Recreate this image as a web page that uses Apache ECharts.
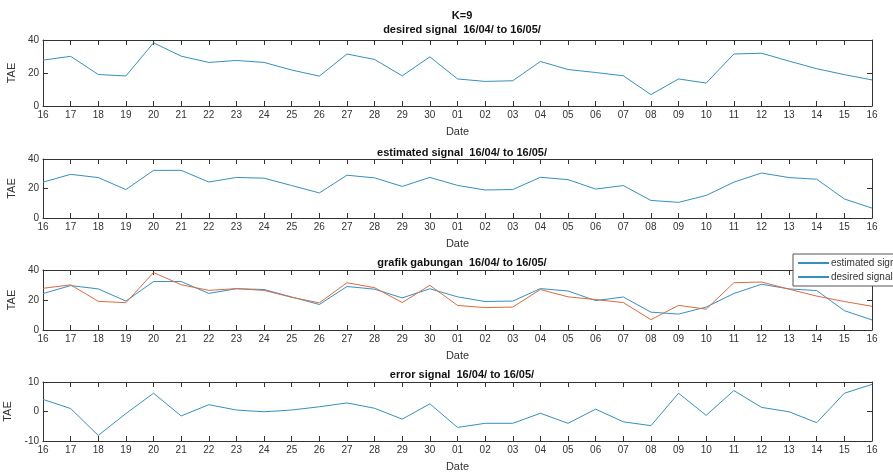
<!DOCTYPE html>
<html>
<head>
<meta charset="utf-8">
<script src="https://cdn.jsdelivr.net/npm/echarts@6/dist/echarts.min.js"></script>
<style>
  html, body { margin: 0; padding: 0; background: #fff; }
  #chart { width: 893px; height: 473px; }
</style>
</head>
<body>
<div id="chart"></div>
<script>
// dates 16/04 .. 16/05
var dates = ["16","17","18","19","20","21","22","23","24","25","26","27","28","29","30",
  "01","02","03","04","05","06","07","08","09","10","11","12","13","14","15","16"];

var desired = [27.8, 30.1, 19.1, 18.2, 38.3, 30.2, 26.4, 27.6, 26.4, 21.8, 18.1, 31.5, 28.2, 18.3, 29.8,
  16.4, 14.9, 15.3, 27.0, 22.1, 20.3, 18.3, 6.9, 16.4, 13.9, 31.5, 32.0, 27.2, 22.6, 19.0, 15.8];

var estimated = [24.3, 29.6, 27.4, 19.3, 32.3, 32.3, 24.4, 27.5, 27.0, 22.0, 17.0, 29.0, 27.2, 21.4, 27.5,
  22.1, 19.0, 19.3, 27.6, 26.0, 19.6, 22.0, 11.9, 10.6, 15.3, 24.3, 30.5, 27.4, 26.3, 12.9, 6.7];

var errorSig = [4.1, 1.0, -8.1, -0.7, 6.2, -1.5, 2.3, 0.5, -0.1, 0.5, 1.6, 2.9, 1.1, -2.6, 2.6,
  -5.4, -4.0, -4.0, -0.6, -4.0, 0.8, -3.5, -4.8, 6.2, -1.3, 7.1, 1.4, -0.1, -3.8, 6.2, 9.2];

var panelTitles = ["desired signal  16/04/ to 16/05/", "estimated signal  16/04/ to 16/05/",
  "grafik gabungan  16/04/ to 16/05/", "error signal  16/04/ to 16/05/"];
var yRanges = [[0, 40, 20], [0, 40, 20], [0, 40, 20], [-10, 10, 10]];

var BLUE = "#3590c2", ORANGE = "#dc6b3e", AX = "#333", FONT = "Liberation Sans, Arial, sans-serif";

// plot boxes (px)
var boxes = [
  { top: 40, height: 66 },
  { top: 159, height: 59 },
  { top: 270, height: 60 },
  { top: 382, height: 59 }
];
var titleY = [19, 142, 252, 364];

var grid = [], xAxis = [], yAxis = [], title = [];
title.push({
  text: "K=9", left: 457, top: 5, textAlign: "center",
  textStyle: { fontFamily: FONT, fontSize: 11, fontWeight: "bold", color: "#111" }
});
boxes.forEach(function (b, i) {
  grid.push({ left: 43, right: 21, top: b.top, height: b.height, show: false, outerBoundsMode: "none" });
  title.push({
    text: panelTitles[i], left: 457, top: titleY[i], textAlign: "center",
    textStyle: { fontFamily: FONT, fontSize: 11, fontWeight: "bold", color: "#111" }
  });
  var axLine = { show: true, onZero: false, lineStyle: { color: AX, width: 1 } };
  xAxis.push({
    gridIndex: i, type: "category", data: dates, boundaryGap: false, position: "bottom",
    name: "Date", nameLocation: "middle", nameGap: 20,
    nameTextStyle: { fontFamily: FONT, fontSize: 11, color: AX },
    axisLine: axLine,
    axisTick: { show: true, inside: true, length: 5, interval: 0, lineStyle: { color: AX } },
    axisLabel: { interval: 0, fontFamily: FONT, fontSize: 10, color: AX, margin: 4 },
    splitLine: { show: false }
  });
  xAxis.push({
    gridIndex: i, type: "category", data: dates, boundaryGap: false, position: "top",
    axisLine: axLine,
    axisTick: { show: true, inside: true, length: 5, interval: 0, lineStyle: { color: AX } },
    axisLabel: { show: false }, splitLine: { show: false }
  });
  var r = yRanges[i];
  yAxis.push({
    gridIndex: i, type: "value", min: r[0], max: r[1], interval: r[2], position: "left",
    name: "TAE", nameLocation: "middle", nameGap: 19,
    nameTextStyle: { fontFamily: FONT, fontSize: 11, color: AX },
    axisLine: axLine,
    axisTick: { show: true, inside: true, length: 5, lineStyle: { color: AX } },
    axisLabel: { fontFamily: FONT, fontSize: 10, color: AX, margin: 4 },
    splitLine: { show: false }
  });
  yAxis.push({
    gridIndex: i, type: "value", min: r[0], max: r[1], interval: r[2], position: "right",
    axisLine: axLine,
    axisTick: { show: true, inside: true, length: 5, lineStyle: { color: AX } },
    axisLabel: { show: false }, splitLine: { show: false }
  });
});

function line(name, data, g, color) {
  return {
    name: name, type: "line", data: data, xAxisIndex: g * 2, yAxisIndex: g * 2,
    symbol: "none", lineStyle: { color: color, width: 1 }, itemStyle: { color: color },
    animation: false
  };
}

var chart = echarts.init(document.getElementById("chart"), null, { renderer: "canvas" });
chart.setOption({
  backgroundColor: "#fff",
  animation: false,
  title: title,
  grid: grid,
  xAxis: xAxis,
  yAxis: yAxis,
  legend: {
    data: ["estimated signal", "desired signal"],
    orient: "vertical", left: 793, top: 254,
    itemWidth: 31, itemHeight: 2, itemGap: 4,
    padding: [4, 4, 4, 4],
    backgroundColor: "#fff", borderColor: "#555", borderWidth: 1, borderRadius: 0,
    textStyle: { fontFamily: FONT, fontSize: 10, color: AX, padding: [0, 0, 0, -3] }
  },
  series: [
    line("desired signal", desired, 0, BLUE),
    line("estimated signal", estimated, 1, BLUE),
    line("estimated signal", estimated, 2, BLUE),
    line("desired signal", desired, 2, ORANGE),
    line("error", errorSig, 3, BLUE)
  ]
});
</script>
</body>
</html>
